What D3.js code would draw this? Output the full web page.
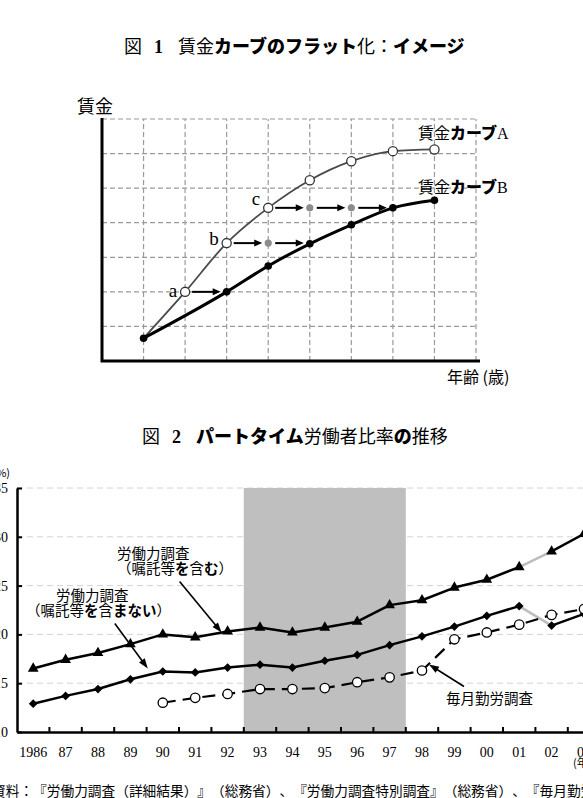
<!DOCTYPE html>
<html>
<head>
<meta charset="utf-8">
<script src="https://cdn.jsdelivr.net/npm/d3@7"></script>
<style>
  body { margin: 0; background: #fff; }
  svg { display: block; font-family: "Noto Sans CJK JP", sans-serif; }
  text { white-space: pre; text-spacing-trim: space-all; }
</style>
</head>
<body>
<script>
// ---- Figure 1 : wage curve (grid units) ----
var ageA  = [1, 2, 3, 4, 5, 6, 7, 8];
var wageA = [0.66, 2, 3.41, 4.43, 5.23, 5.78, 6.07, 6.12];
var ageB  = [1, 3, 4, 5, 6, 7, 8];
var wageB = [0.66, 2, 2.75, 3.39, 3.94, 4.43, 4.65];
var shiftLabels = ["a", "b", "c"];
var shiftFrom = [2, 3, 4];
var shiftTo   = [3, 5, 7];

// ---- Figure 2 : part-time ratio (%) ----
var years = ["1986", "87", "88", "89", "90", "91", "92", "93", "94", "95",
             "96", "97", "98", "99", "00", "01", "02", "03"];
var lfsIncl = [16.5, 17.4, 18.1, 19.0, 20.0, 19.7, 20.3, 20.7, 20.2, 20.7,
               21.3, 23.0, 23.5, 24.8, 25.6, 26.9, 28.5, 30.3];
var lfsExcl = [12.9, 13.7, 14.4, 15.4, 16.2, 16.1, 16.6, 16.9, 16.6, 17.3,
               17.9, 18.9, 19.8, 20.8, 21.9, 22.9, 20.9, 22.1];
var maikinYears = ["90", "91", "92", "93", "94", "95", "96", "97", "98", "99",
                   "00", "01", "02", "03"];
var maikin = [13.0, 13.5, 13.9, 14.4, 14.4, 14.5, 15.1, 15.6, 16.3, 19.5,
              20.2, 21.0, 22.0, 22.6];
var recession = ["93", "94", "95", "96", "97"];
var breakYear = "01";   // survey change between 01 and 02
var yTicks = [10, 15, 20, 25, 30, 35];

var serif = "'Liberation Serif', 'DejaVu Serif', serif";

var svg = d3.select("body").append("svg")
    .attr("width", 583)
    .attr("height", 798);

// kana in bold, latin letters / digits in serif, kanji regular
function addRuns(text, str, kanaWeight, startX) {
  var runs = [];
  Array.from(str).forEach(function(ch) {
    var t = /[\u3041-\u30ff]/.test(ch) ? "kana" : (/[A-Za-z0-9]/.test(ch) ? "latin" : "other");
    if (runs.length && runs[runs.length - 1].t === t) runs[runs.length - 1].s += ch;
    else runs.push({t: t, s: ch});
  });
  runs.forEach(function(r, i) {
    var ts = text.append("tspan").text(r.s);
    if (i === 0 && startX !== undefined) ts.attr("x", startX);
    if (r.t === "kana") ts.attr("font-weight", kanaWeight || 700);
    if (r.t === "latin") ts.attr("font-family", serif);
  });
  return text;
}

function arrow(g, xa, ya, xb, yb, sw, hl, hw) {
  var dx = xb - xa, dy = yb - ya, len = Math.sqrt(dx * dx + dy * dy);
  var ux = dx / len, uy = dy / len;
  var bx = xb - ux * hl, by = yb - uy * hl;
  g.append("line")
      .attr("x1", xa).attr("y1", ya)
      .attr("x2", bx + ux).attr("y2", by + uy)
      .attr("stroke", "#000").attr("stroke-width", sw);
  g.append("path")
      .attr("d", "M" + xb + "," + yb +
                 "L" + (bx - uy * hw / 2) + "," + (by + ux * hw / 2) +
                 "L" + (bx + uy * hw / 2) + "," + (by - ux * hw / 2) + "Z")
      .attr("fill", "#000");
}

function title(x, y, num, str) {
  var t = svg.append("text").attr("y", y).attr("font-size", 18);
  t.append("tspan").attr("x", x).text("図");
  t.append("tspan").attr("x", x + 30).attr("font-family", serif)
      .attr("font-weight", "bold").text(num);
  addRuns(t, str, 900, x + 54);
}

// =================== Figure 1 ===================
title(124, 53, "1", "賃金カーブのフラット化：イメージ");

var f1 = svg.append("g");
var x1 = d3.scaleLinear().domain([0, 9]).range([102, 476]);
var y1 = d3.scaleLinear().domain([0, 7]).range([361, 119]);

// dashed grid
f1.selectAll(".vgrid").data(d3.range(1, 10)).enter().append("line")
    .attr("x1", x1).attr("x2", x1)
    .attr("y1", y1(0)).attr("y2", y1(7))
    .attr("stroke", "#9a9a9a").attr("stroke-width", 1.2)
    .attr("stroke-dasharray", "5,3");
f1.selectAll(".hgrid").data(d3.range(1, 8)).enter().append("line")
    .attr("x1", x1(0)).attr("x2", x1(9))
    .attr("y1", y1).attr("y2", y1)
    .attr("stroke", "#9a9a9a").attr("stroke-width", 1.2)
    .attr("stroke-dasharray", "5,3");

// axes
f1.append("path")
    .attr("d", "M" + x1(0) + "," + (y1(7) - 1) + "V" + y1(0) + "H" + (x1(9) + 4))
    .attr("fill", "none").attr("stroke", "#000").attr("stroke-width", 3);

f1.append("text").attr("x", 95).attr("y", 113).attr("font-size", 18)
    .attr("text-anchor", "middle").text("賃金");
f1.append("text").attr("x", 447).attr("y", 383).attr("font-size", 16).text("年齢 (歳)");

var ptsA = d3.zip(ageA, wageA);
var ptsB = d3.zip(ageB, wageB);
var curve = d3.line()
    .x(function(d) { return x1(d[0]); })
    .y(function(d) { return y1(d[1]); })
    .curve(d3.curveMonotoneX);

f1.append("path").attr("d", curve(ptsA))
    .attr("fill", "none").attr("stroke", "#4a4a4a").attr("stroke-width", 1.8);
f1.append("path").attr("d", curve(ptsB))
    .attr("fill", "none").attr("stroke", "#000").attr("stroke-width", 3);

// horizontal shifts a, b, c
shiftLabels.forEach(function(lab, i) {
  var yv = wageA[ageA.indexOf(shiftFrom[i])];
  var stops = d3.range(shiftFrom[i], shiftTo[i] + 1);
  d3.pairs(stops).forEach(function(p) {
    arrow(f1, x1(p[0]) + 7, y1(yv), x1(p[1]) - 6, y1(yv), 2, 8, 7);
  });
  f1.selectAll(".gdot" + i).data(stops.slice(1, -1)).enter().append("circle")
      .attr("cx", x1).attr("cy", y1(yv)).attr("r", 3.6).attr("fill", "#8c8c8c");
  f1.append("text")
      .attr("x", x1(shiftFrom[i]) - 8)
      .attr("y", y1(yv) + [5, 2, -3][i])
      .attr("text-anchor", "end")
      .attr("font-family", serif).attr("font-size", 19)
      .text(lab);
});

f1.selectAll(".dotA").data(ptsA.slice(1)).enter().append("circle")
    .attr("cx", function(d) { return x1(d[0]); })
    .attr("cy", function(d) { return y1(d[1]); })
    .attr("r", 4.6).attr("fill", "#fff").attr("stroke", "#333").attr("stroke-width", 1.3);
f1.selectAll(".dotB").data(ptsB).enter().append("circle")
    .attr("cx", function(d) { return x1(d[0]); })
    .attr("cy", function(d) { return y1(d[1]); })
    .attr("r", 3.8).attr("fill", "#000");

addRuns(f1.append("text").attr("x", 418).attr("y", 139).attr("font-size", 16), "賃金カーブA", 900);
addRuns(f1.append("text").attr("x", 418).attr("y", 193).attr("font-size", 16), "賃金カーブB", 900);

// =================== Figure 2 ===================
title(142, 443, "2", "パートタイム労働者比率の推移");

var f2 = svg.append("g");
var x2 = d3.scaleBand().domain(years).range([17, 17 + 32.4 * years.length]);
var y2 = d3.scaleLinear().domain([10, 35]).range([732, 488]);
var bw = x2.bandwidth();
function cx(yr) { return x2(yr) + bw / 2; }

// light dashed gridlines
f2.selectAll(".grid").data(yTicks.slice(1)).enter().append("line")
    .attr("x1", 17).attr("x2", 600)
    .attr("y1", y2).attr("y2", y2)
    .attr("stroke", "#d2d2de").attr("stroke-width", 1)
    .attr("stroke-dasharray", "6,4");

// recession shading
f2.append("rect")
    .attr("x", x2(recession[0]))
    .attr("width", x2(recession[recession.length - 1]) + bw - x2(recession[0]))
    .attr("y", y2(35)).attr("height", y2(10) - y2(35))
    .attr("fill", "#bfbfbf");

// axes
var xAxis = f2.append("g")
    .attr("transform", "translate(0," + y2(10) + ")")
    .call(d3.axisBottom(x2).tickSize(0).tickPadding(15));
xAxis.select(".domain").attr("stroke-width", 2.5);
xAxis.selectAll("text").attr("font-family", serif).attr("font-size", 14).attr("fill", "#000");

f2.selectAll(".btick").data(years.slice(1)).enter().append("line")
    .attr("x1", x2).attr("x2", x2)
    .attr("y1", y2(10)).attr("y2", y2(10) - 5)
    .attr("stroke", "#000").attr("stroke-width", 2);

var yAxis = f2.append("g")
    .attr("transform", "translate(17,0)")
    .call(d3.axisLeft(y2).tickValues(yTicks).tickSizeInner(-5).tickSizeOuter(0).tickPadding(9));
yAxis.select(".domain").attr("stroke-width", 2.5);
yAxis.selectAll(".tick line").attr("stroke-width", 2);
yAxis.selectAll("text").attr("font-family", serif).attr("font-size", 14).attr("fill", "#000");

f2.append("text").attr("x", 10).attr("y", 477).attr("text-anchor", "end")
    .attr("font-size", 11).text("(%)");
f2.append("text").attr("x", 573).attr("y", 767).attr("font-size", 11).text("(年)");

var lineF = d3.line()
    .x(function(d) { return cx(d[0]); })
    .y(function(d) { return y2(d[1]); });

function drawSeries(vals, sym) {
  var pts = d3.zip(years, vals);
  var bi = years.indexOf(breakYear);
  [[pts.slice(0, bi + 1), "#000"], [pts.slice(bi, bi + 2), "#bdbdbd"], [pts.slice(bi + 1), "#000"]]
    .forEach(function(r) {
      f2.append("path").attr("d", lineF(r[0]))
          .attr("fill", "none").attr("stroke", r[1]).attr("stroke-width", 2.5)
          .attr("stroke-linejoin", "round");
    });
  f2.selectAll(null).data(pts).enter().append("path")
      .attr("d", sym)
      .attr("transform", function(d) {
        return "translate(" + cx(d[0]) + "," + y2(d[1]) + ")" + (sym === diamond ? " rotate(45)" : "");
      })
      .attr("fill", "#000");
}
var triangle = d3.symbol(d3.symbolTriangle, 50)();
var diamond = d3.symbol(d3.symbolSquare, 38)();

drawSeries(lfsIncl, triangle);
drawSeries(lfsExcl, diamond);

var ptsM = d3.zip(maikinYears, maikin);
f2.append("path").attr("d", lineF(ptsM))
    .attr("fill", "none").attr("stroke", "#000").attr("stroke-width", 2.2)
    .attr("stroke-dasharray", "13,7");
f2.selectAll(".mk").data(ptsM).enter().append("circle")
    .attr("cx", function(d) { return cx(d[0]); })
    .attr("cy", function(d) { return y2(d[1]); })
    .attr("r", 4.7).attr("fill", "#fff").attr("stroke", "#000").attr("stroke-width", 1.3);

// annotations (arrow tip anchored near a data point)
function valueAt(arr, yrs, yr) { return arr[yrs.indexOf(yr)]; }
var t1 = [cx("92") - 6, y2(valueAt(lfsIncl, years, "92")) + 1];
arrow(f2, t1[0] - 42, t1[1] - 51, t1[0], t1[1], 1.6, 10, 7);
var t2 = [cx("90") - 15, y2(valueAt(lfsExcl, years, "90")) - 3];
arrow(f2, t2[0] - 33, t2[1] - 45, t2[0], t2[1], 1.6, 10, 7);
var t3 = [cx("98") + 7, y2(valueAt(maikin, maikinYears, "98")) - 6];
arrow(f2, t3[0] + 35, t3[1] + 22, t3[0], t3[1], 1.6, 10, 7);

function note(x, y, str) {
  addRuns(f2.append("text").attr("x", x).attr("y", y).attr("font-size", 14.5), str, 700);
}
note(117, 559, "労働力調査");
note(117, 574, "（嘱託等を含む）");
note(56, 601, "労働力調査");
note(26, 616, "（嘱託等を含まない）");
note(446, 704, "毎月勤労調査");

// source line
svg.append("text").attr("x", -8).attr("y", 796).attr("font-size", 13.7)
    .text("資料：『労働力調査（詳細結果）』（総務省）、『労働力調査特別調査』（総務省）、『毎月勤労統計調査』（厚生労働省）");
</script>
</body>
</html>
